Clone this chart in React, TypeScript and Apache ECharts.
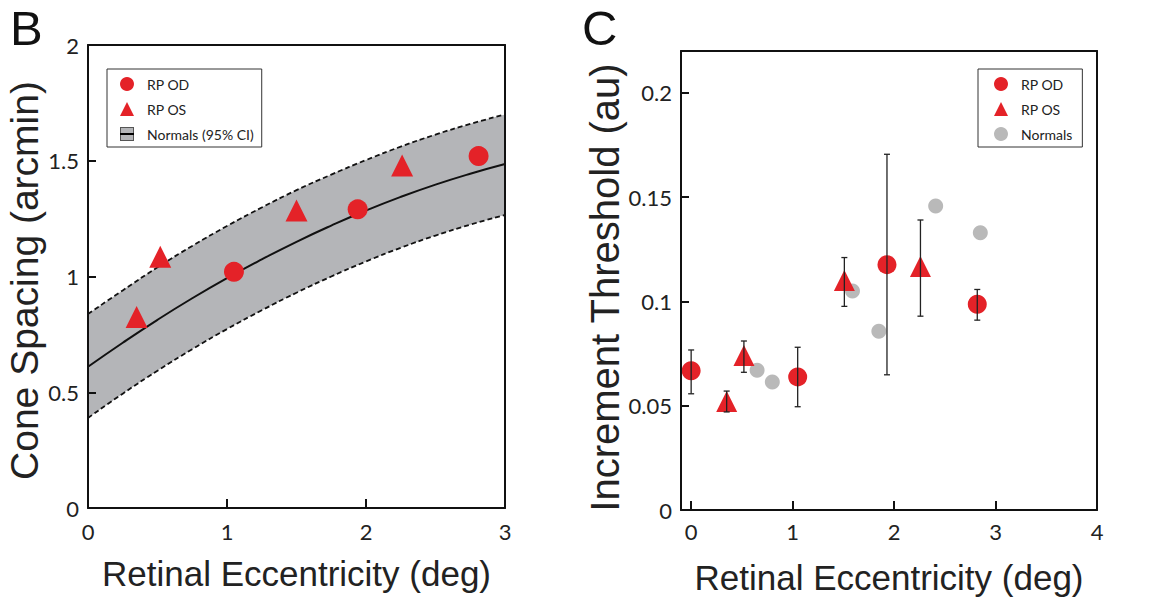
import React, { useEffect, useRef } from "react";
import * as echarts from "echarts";

// Panel B: normals fit (mean and 95% CI), sampled along eccentricity
const bX = [0, 0.25, 0.5, 0.75, 1, 1.25, 1.5, 1.75, 2, 2.25, 2.5, 2.75, 3];
const bMean = [0.61, 0.714, 0.813, 0.906, 0.993, 1.074, 1.15, 1.22, 1.285, 1.344, 1.397, 1.444, 1.486];
const bUpper = [0.838, 0.94, 1.04, 1.132, 1.218, 1.298, 1.373, 1.44, 1.503, 1.561, 1.613, 1.659, 1.7];
const bLower = [0.389, 0.494, 0.593, 0.686, 0.773, 0.854, 0.93, 1.0, 1.065, 1.124, 1.177, 1.224, 1.266];
const bOD = [[1.05, 1.02], [1.94, 1.29], [2.81, 1.52]];
const bOS = [[0.35, 0.825], [0.52, 1.085], [1.5, 1.285], [2.26, 1.48]];

// Panel C: increment thresholds
const cOD = [[0, 0.0667], [1.05, 0.0638], [1.93, 0.1176], [2.82, 0.0986]];
const cODErr = [[0, 0.0557, 0.0767], [1.05, 0.0495, 0.078], [1.93, 0.0648, 0.1705], [2.82, 0.091, 0.1057]];
const cOS = [[0.35, 0.052], [0.52, 0.074], [1.51, 0.11], [2.26, 0.1167]];
const cOSErr = [[0.35, 0.047, 0.057], [0.52, 0.066, 0.081], [1.51, 0.0976, 0.121], [2.26, 0.0929, 0.139]];
const cNorm = [[0.65, 0.067], [0.8, 0.0614], [1.59, 0.105], [1.85, 0.0857], [2.41, 0.1457], [2.85, 0.1329]];

const bXTicks = [0, 1, 2, 3];
const bYTicks = [0, 0.5, 1, 1.5, 2];
const cXTicks = [0, 1, 2, 3, 4];
const cYTicks = [0, 0.05, 0.1, 0.15, 0.2];

const RED = "#e42228";
const GRAY = "#b9b9b9";
const BAND = "#b4b5b8";
const INK = "#111";
const TXT = "#222";
const TICK_FONT = "Lato";
const TITLE_FONT = "'Liberation Sans', Arial, sans-serif";

const normalsIcon =
  "image://data:image/svg+xml;charset=utf-8," +
  encodeURIComponent(
    "<svg xmlns='http://www.w3.org/2000/svg' width='14' height='14'>" +
      "<rect x='0.5' y='0.5' width='13' height='13' fill='#b4b5b8' stroke='#555' stroke-width='1'/>" +
      "<line x1='0' y1='7' x2='14' y2='7' stroke='#000' stroke-width='2'/></svg>"
  );

function frameAxis(gridIndex: number, position: string, min: number, max: number) {
  return {
    type: "value",
    gridIndex,
    position,
    min,
    max,
    z: 10,
    axisLine: { show: true, onZero: false, lineStyle: { color: INK, width: 2 } },
    axisTick: { show: false },
    axisLabel: { show: false },
    splitLine: { show: false },
  };
}

function errorBars(name: string, data: number[][]) {
  return {
    type: "custom",
    name,
    xAxisIndex: 2,
    yAxisIndex: 2,
    z: 5,
    silent: true,
    data,
    renderItem: (params: any, api: any) => {
      const x = api.value(0);
      const top = api.coord([x, api.value(2)]);
      const bot = api.coord([x, api.value(1)]);
      const cap = 3;
      const style = { stroke: "#222", lineWidth: 1.3 };
      return {
        type: "group",
        children: [
          { type: "line", shape: { x1: top[0], y1: top[1], x2: bot[0], y2: bot[1] }, style },
          { type: "line", shape: { x1: top[0] - cap, y1: top[1], x2: top[0] + cap, y2: top[1] }, style },
          { type: "line", shape: { x1: bot[0] - cap, y1: bot[1], x2: bot[0] + cap, y2: bot[1] }, style },
        ],
      };
    },
  };
}

export default function App() {
  const ref = useRef<HTMLDivElement>(null);
  useEffect(() => {
    if (!ref.current) return;
    const chart = echarts.init(ref.current, null, { renderer: "svg" });
    const pts = (ys: number[]) => bX.map((x, i) => [x, ys[i]]);
    const tickLabel = { fontSize: 22, color: TXT, fontFamily: TICK_FONT };
    const legendCommon = {
      orient: "vertical",
      itemWidth: 14,
      itemHeight: 14,
      itemGap: 9,
      selectedMode: false,
      backgroundColor: "#fff",
      borderColor: "#333",
      borderWidth: 1,
      borderRadius: 0,
      textStyle: { fontSize: 14, lineHeight: 16, color: TXT, fontFamily: TICK_FONT, padding: [0, 0, 0, 8] },
    };
    chart.setOption({
      animation: false,
      backgroundColor: "#fff",
      title: [
        { text: "B", left: 10, top: 3, padding: 0, textStyle: { fontSize: 49, fontWeight: "normal", fontFamily: TITLE_FONT, color: INK } },
        { text: "C", left: 582, top: 3, padding: 0, textStyle: { fontSize: 49, fontWeight: "normal", fontFamily: TITLE_FONT, color: INK } },
      ],
      grid: [
        { left: 88, top: 45, width: 417, height: 463 },
        { left: 681, top: 51, width: 416, height: 462 },
      ],
      legend: [
        {
          ...legendCommon,
          left: 107,
          top: 69,
          padding: [7, 8, 5, 13],
          data: [
            { name: "RP OD", icon: "circle" },
            { name: "RP OS", icon: "triangle" },
            { name: "Normals (95% CI)", icon: normalsIcon },
          ],
        },
        {
          ...legendCommon,
          left: 978,
          top: 69,
          padding: [7, 10, 5, 16],
          data: [
            { name: "RP OD", icon: "circle" },
            { name: "RP OS", icon: "triangle" },
            { name: "Normals", icon: "circle", itemStyle: { color: GRAY } },
          ],
        },
      ],
      xAxis: [
        {
          type: "value",
          gridIndex: 0,
          min: 0,
          max: 3,
          interval: 1,
          z: 10,
          axisLine: { onZero: false, lineStyle: { color: INK, width: 2 } },
          axisTick: { inside: true, length: 9, lineStyle: { color: INK, width: 2 }, customValues: bXTicks },
          axisLabel: { ...tickLabel, margin: 12, customValues: bXTicks },
          splitLine: { show: false },
          name: "Retinal Eccentricity (deg)",
          nameLocation: "middle",
          nameGap: 48,
          nameTextStyle: { fontSize: 35, fontFamily: TITLE_FONT, color: TXT },
        },
        frameAxis(0, "top", 0, 3),
        {
          type: "value",
          gridIndex: 1,
          min: -0.1,
          max: 4,
          z: 10,
          axisLine: { onZero: false, lineStyle: { color: INK, width: 2 } },
          axisTick: { inside: true, length: 9, lineStyle: { color: INK, width: 2 }, customValues: [0, 1, 2, 3] },
          axisLabel: { ...tickLabel, margin: 10, customValues: cXTicks },
          splitLine: { show: false },
          name: "Retinal Eccentricity (deg)",
          nameLocation: "middle",
          nameGap: 50,
          nameTextStyle: { fontSize: 35, fontFamily: TITLE_FONT, color: TXT },
        },
        frameAxis(1, "top", -0.1, 4),
      ],
      yAxis: [
        {
          type: "value",
          gridIndex: 0,
          min: 0,
          max: 2,
          interval: 0.5,
          z: 10,
          axisLine: { onZero: false, lineStyle: { color: INK, width: 2 } },
          axisTick: { inside: true, length: 8, lineStyle: { color: INK, width: 2 }, customValues: bYTicks },
          axisLabel: { ...tickLabel, margin: 9, customValues: bYTicks },
          splitLine: { show: false },
          name: "Cone Spacing (arcmin)",
          nameLocation: "middle",
          nameGap: 41,
          nameTextStyle: { fontSize: 39, fontFamily: TITLE_FONT, color: TXT, padding: [0, 8, 0, 0] },
        },
        frameAxis(0, "right", 0, 2),
        {
          type: "value",
          gridIndex: 1,
          min: 0,
          max: 0.22,
          z: 10,
          axisLine: { onZero: false, lineStyle: { color: INK, width: 2 } },
          axisTick: { inside: true, length: 8, lineStyle: { color: INK, width: 2 }, customValues: cYTicks },
          axisLabel: { ...tickLabel, margin: 9, customValues: cYTicks },
          splitLine: { show: false },
          name: "Increment Threshold (au)",
          nameLocation: "middle",
          nameGap: 53,
          nameTextStyle: { fontSize: 40, fontFamily: TITLE_FONT, color: TXT, padding: [0, 14, 0, 0] },
        },
        frameAxis(1, "right", 0, 0.22),
      ],
      series: [
        {
          type: "line", name: "upperFill", xAxisIndex: 0, yAxisIndex: 0, smooth: true, z: 1,
          symbol: "none", silent: true, data: pts(bUpper), lineStyle: { opacity: 0 },
          areaStyle: { color: BAND, opacity: 1, origin: "start" },
        },
        {
          type: "line", name: "lowerFill", xAxisIndex: 0, yAxisIndex: 0, smooth: true, z: 1,
          symbol: "none", silent: true, data: pts(bLower), lineStyle: { opacity: 0 },
          areaStyle: { color: "#fff", opacity: 1, origin: "start" },
        },
        {
          type: "line", name: "upperCI", xAxisIndex: 0, yAxisIndex: 0, smooth: true, symbol: "none", silent: true,
          data: pts(bUpper), lineStyle: { color: INK, width: 1.8, type: [5, 3] },
        },
        {
          type: "line", name: "lowerCI", xAxisIndex: 0, yAxisIndex: 0, smooth: true, symbol: "none", silent: true,
          data: pts(bLower), lineStyle: { color: INK, width: 1.8, type: [5, 3] },
        },
        {
          type: "line", name: "Normals (95% CI)", xAxisIndex: 0, yAxisIndex: 0, smooth: true, symbol: "none",
          data: pts(bMean), lineStyle: { color: INK, width: 2 }, itemStyle: { color: INK },
        },
        {
          type: "scatter", name: "RP OD", xAxisIndex: 0, yAxisIndex: 0, symbol: "circle", symbolSize: 20,
          data: bOD, itemStyle: { color: RED, opacity: 1 }, z: 4,
        },
        {
          type: "scatter", name: "RP OS", xAxisIndex: 0, yAxisIndex: 0, symbol: "triangle", symbolSize: 22,
          data: bOS, itemStyle: { color: RED, opacity: 1 }, z: 4,
        },
        {
          type: "scatter", name: "Normals", xAxisIndex: 2, yAxisIndex: 2, symbol: "circle", symbolSize: 15,
          data: cNorm, itemStyle: { color: GRAY, opacity: 1 }, z: 3,
        },
        {
          type: "scatter", name: "RP OD", xAxisIndex: 2, yAxisIndex: 2, symbol: "circle", symbolSize: 19,
          data: cOD, itemStyle: { color: RED, opacity: 1 }, z: 4,
        },
        {
          type: "scatter", name: "RP OS", xAxisIndex: 2, yAxisIndex: 2, symbol: "triangle", symbolSize: 21,
          data: cOS, itemStyle: { color: RED, opacity: 1 }, z: 4,
        },
        errorBars("odErr", cODErr),
        errorBars("osErr", cOSErr),
      ],
    });
    return () => chart.dispose();
  }, []);
  return <div ref={ref} style={{ position: "absolute", left: 0, top: 0, width: 1159, height: 600 }} />;
}
